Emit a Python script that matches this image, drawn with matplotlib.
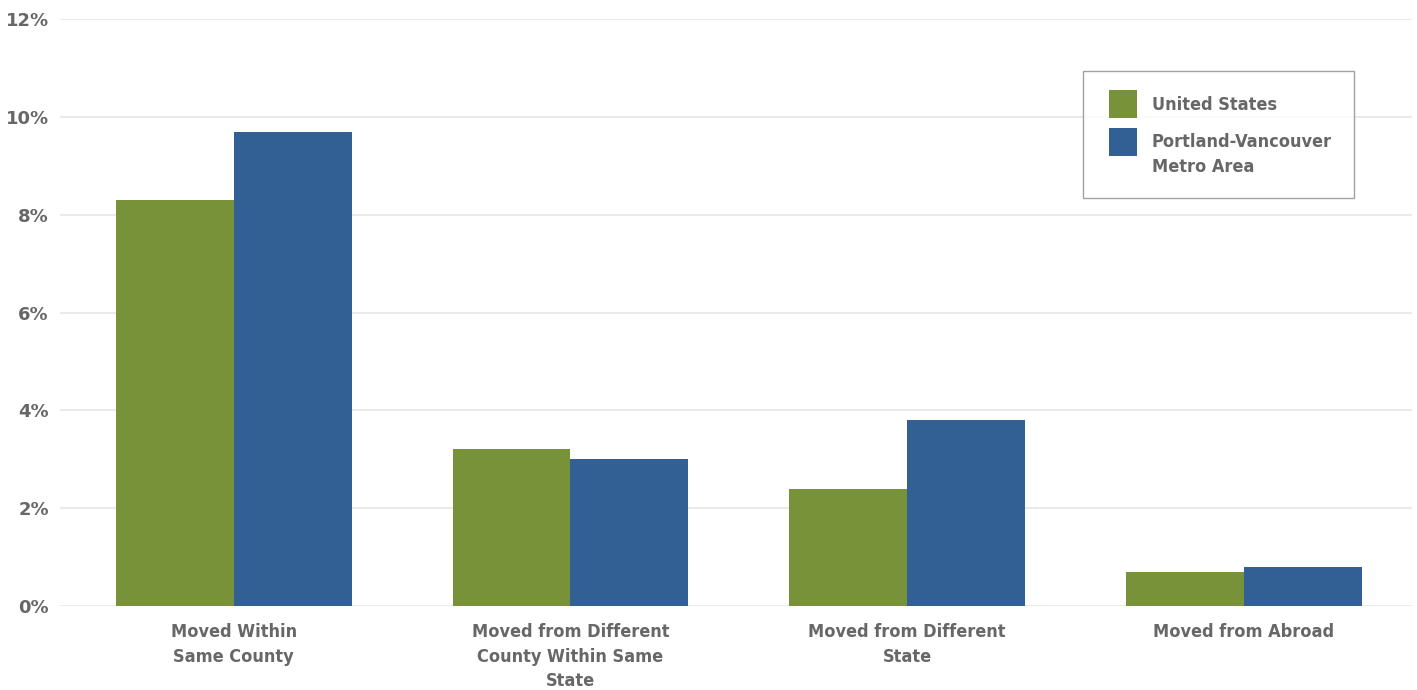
import matplotlib
matplotlib.use("Agg")
import matplotlib.pyplot as plt
import numpy as np
from matplotlib.patches import Patch, Rectangle
from matplotlib.legend_handler import HandlerPatch
from matplotlib import font_manager as fm

categories = ["Moved Within\nSame County",
              "Moved from Different\nCounty Within Same\nState",
              "Moved from Different\nState",
              "Moved from Abroad"]
us_values = [8.3, 3.2, 2.4, 0.7]
pdx_values = [9.7, 3.0, 3.8, 0.8]
series_names = ["United States", "Portland-Vancouver\nMetro Area"]
yticks = [0, 2, 4, 6, 8, 10, 12]

green = "#78923a"
blue = "#336094"
txt = "#676767"

plt.rcParams['font.family'] = ['DejaVu Sans']
cond = fm.FontProperties(family='DejaVu Sans', stretch='condensed', weight='bold', size=13)
cond_leg = fm.FontProperties(family='DejaVu Sans', stretch='condensed', weight='bold', size=13)
ytick_fp = fm.FontProperties(family='DejaVu Sans', weight='bold', size=13)

SQ = 20.15   # square side in points (~28 px)
XOFF = 2.8   # extra left inset in points


class SquareHandler(HandlerPatch):
    def __init__(self, shift=0.0, **kw):
        super().__init__(**kw)
        self.shift = shift

    def create_artists(self, legend, orig_handle, xdescent, ydescent,
                       width, height, fontsize, trans):
        y0 = -ydescent + height / 2 - SQ / 2 + self.shift * fontsize
        r = Rectangle((-xdescent + XOFF, y0), SQ, SQ,
                      facecolor=orig_handle.get_facecolor(), edgecolor='none',
                      transform=trans)
        return [r]


W, H = 1417, 690
fig = plt.figure(figsize=(W / 100, H / 100), dpi=100)
ax = fig.add_axes([60 / W, 84 / H, (1412 - 60) / W, (606 - 19) / H])

x = np.arange(len(categories))
bw = 0.35
ax.bar(x - bw / 2, us_values, bw, color=green, zorder=3)
ax.bar(x + bw / 2, pdx_values, bw, color=blue, zorder=3)

ax.set_xlim(-0.516, 3.5)
ax.set_ylim(0, 12)
ax.set_yticks(yticks)
ax.set_yticklabels([f"{v}%" for v in yticks], fontproperties=ytick_fp, color=txt)
ax.set_xticks(x)
ax.set_xticklabels(categories, fontproperties=cond, color=txt, linespacing=1.45)
ax.tick_params(axis='both', length=0)
ax.tick_params(axis='y', pad=8)
ax.tick_params(axis='x', pad=12.5)
for s in ax.spines.values():
    s.set_visible(False)
ax.grid(axis='y', color="#e6e6e6", linewidth=1.2, zorder=0)
ax.set_axisbelow(True)

h1 = Patch(facecolor=green, edgecolor='none')
h2 = Patch(facecolor=blue, edgecolor='none')
leg = fig.legend([h1, h2], series_names, loc='upper left',
                 bbox_to_anchor=(1083 / W, 1 - 71 / H),
                 frameon=True, fancybox=False, prop=cond_leg,
                 handlelength=(SQ + XOFF) / 13, handleheight=1.55,
                 handletextpad=0.83,
                 borderpad=1.22, labelspacing=0.95, borderaxespad=0,
                 labelcolor=txt,
                 handler_map={h1: SquareHandler(0.0), h2: SquareHandler(0.76)})
leg.get_frame().set_edgecolor("#8a8a8a")
leg.get_frame().set_linewidth(1.0)
for t in leg.get_texts():
    t.set_linespacing(1.5)

fig.savefig("out.png", dpi=100)
